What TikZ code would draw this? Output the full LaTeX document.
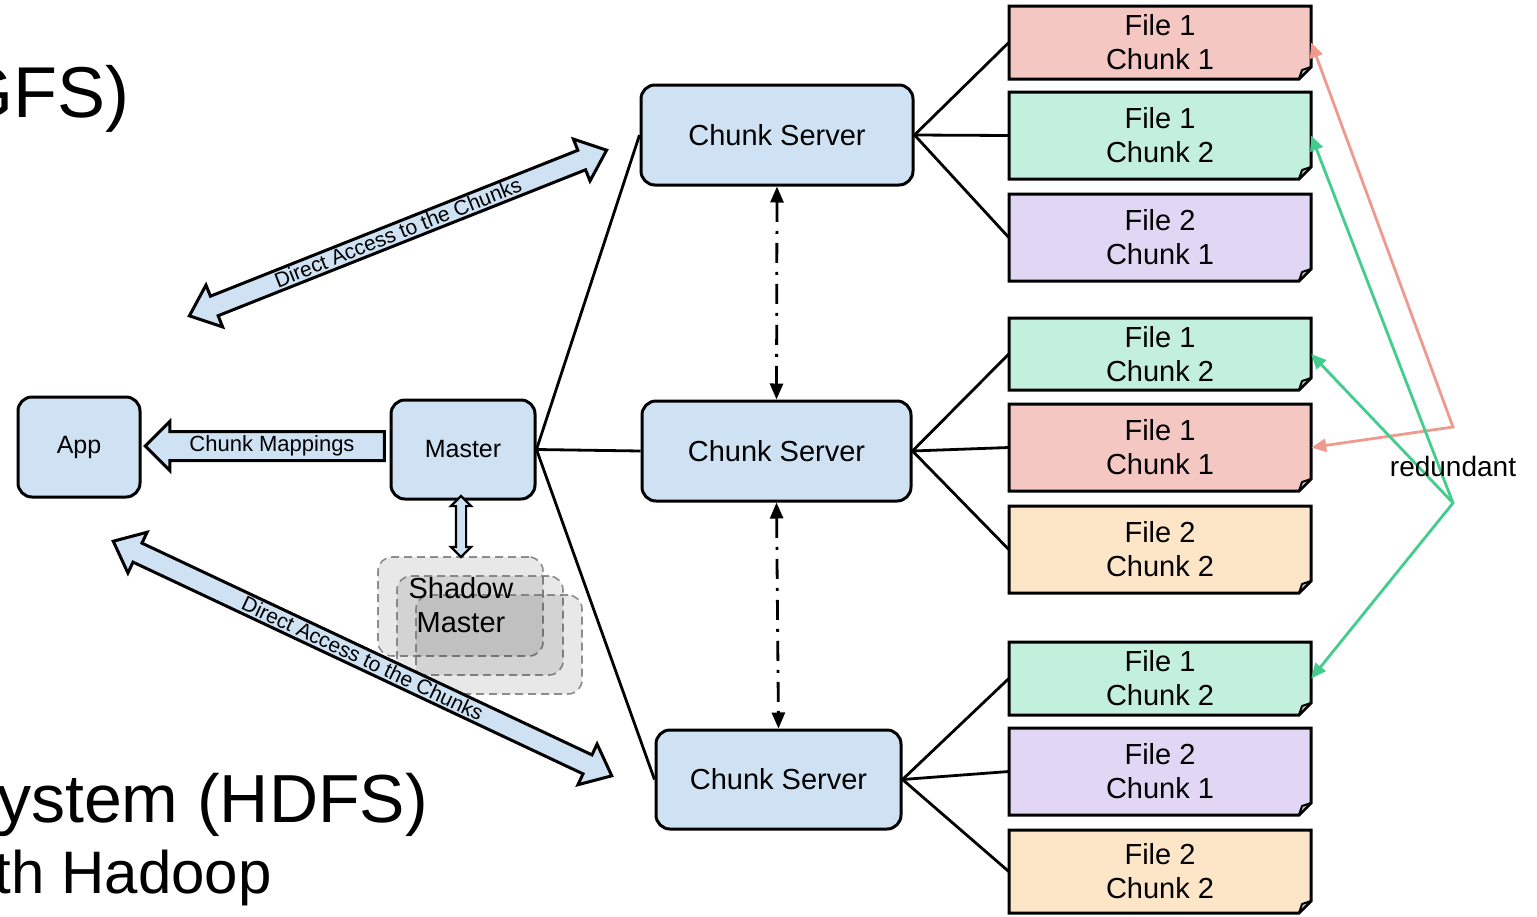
\documentclass[tikz,border=0pt]{standalone}
\usepackage{fontspec}
\setmainfont{Liberation Sans}
\usetikzlibrary{arrows.meta,shapes.arrows,calc}
\definecolor{csblue}{HTML}{CFE2F3}
\definecolor{fred}{HTML}{F4C7C3}
\definecolor{fgreen}{HTML}{C3F0DC}
\definecolor{fpurple}{HTML}{E1D7F5}
\definecolor{forange}{HTML}{FDE5C8}
\definecolor{ared}{HTML}{EE9B8E}
\definecolor{agreen}{HTML}{42CD8C}
\newcommand{\fnode}[7]{%
  \draw[filebox, fill=#6] (#2,#3) -- (#4,#3) -- (#4,#5-12) -- (#4-12,#5) -- (#2,#5) -- cycle;
  \draw[foldmark] (#4-12,#5) -- (#4,#5-12) -- (#4-9,#5-9) -- cycle;
  \node[filetext, minimum width=#4-#2, minimum height=#5-#3] (#1) at ({(#2+#4)/2},{(#3+#5)/2}) {#7};
}
\begin{document}
\begin{tikzpicture}[x=1pt,y=-1pt,
  box/.style={draw, line width=3pt, rounded corners=14pt, fill=csblue, inner sep=0pt},
  bigtext/.style={font=\fontsize{29}{34}\selectfont},
  midtext/.style={font=\fontsize{25}{30}\selectfont},
  filebox/.style={draw, line width=3pt, line join=miter},
  foldmark/.style={draw, line width=2pt, fill=black!25, line join=round},
  filetext/.style={font=\fontsize{29}{34}\selectfont, align=center, inner sep=0pt},
  conn/.style={line width=2.8pt},
  dd/.style={line width=2.8pt, dash pattern=on 20pt off 9pt on 3pt off 9pt,
     {Triangle[length=16pt,width=13pt]}-{Triangle[length=16pt,width=13pt]}},
  redl/.style={draw=ared, line width=2.8pt},
  greenl/.style={draw=agreen, line width=2.8pt},
  blockarrow/.style={draw, line width=3pt, fill=csblue, line join=miter},
  shadowbox/.style={draw=black!55, dash pattern=on 8pt off 5pt, line width=1.6pt, rounded corners=14pt,
     fill=black, fill opacity=0.09, draw opacity=0.8},
  title/.style={anchor=base east, inner sep=0pt}
]
\useasboundingbox (0,0) rectangle (1537,916);
\clip (0,0) rectangle (1537,916);

% titles (cut off by the page edge)
\node[title, font=\fontsize{72}{72}\selectfont] (t1) at (130,117) {GFS)};
\node[title, font=\fontsize{68}{68}\selectfont] (t2) at (428,822) {ystem (HDFS)};
\node[title, font=\fontsize{60}{60}\selectfont] (t3) at (272,893) {th Hadoop};

% main boxes
\node[box, bigtext, minimum width=272pt, minimum height=100pt] (cs1) at (777,135) {Chunk Server};
\node[box, bigtext, minimum width=269pt, minimum height=100pt] (cs2) at (776.5,451) {Chunk Server};
\node[box, bigtext, minimum width=245pt, minimum height=99pt] (cs3) at (778.5,779.5) {Chunk Server};
\node[box, midtext, minimum width=144pt, minimum height=99pt] (m) at (463,449.5) {Master};
\node[box, midtext, minimum width=122pt, minimum height=100pt] (app) at (79,447) {App};

% file chunks
\fnode{f1}{1009}{6}{1311}{79}{fred}{File 1\\Chunk 1}
\fnode{f2}{1009}{92}{1311}{179}{fgreen}{File 1\\Chunk 2}
\fnode{f3}{1009}{194}{1311}{281}{fpurple}{File 2\\Chunk 1}
\fnode{f4}{1009}{318}{1311}{390}{fgreen}{File 1\\Chunk 2}
\fnode{f5}{1009}{404}{1311}{491}{fred}{File 1\\Chunk 1}
\fnode{f6}{1009}{506}{1311}{593}{forange}{File 2\\Chunk 2}
\fnode{f7}{1009}{642}{1311}{715}{fgreen}{File 1\\Chunk 2}
\fnode{f8}{1009}{728}{1311}{815}{fpurple}{File 2\\Chunk 1}
\fnode{f9}{1009}{830}{1311}{913}{forange}{File 2\\Chunk 2}

% connectors master -> chunk servers
\draw[conn] (m.east) -- (cs1.west);
\draw[conn] (m.east) -- (cs2.west);
\draw[conn] (m.east) -- (cs3.west);

% chunk servers -> files
\draw[conn] (cs1.east) -- (f1.west);
\draw[conn] (cs1.east) -- (f2.west);
\draw[conn] (cs1.east) -- (f3.west);
\draw[conn] (cs2.east) -- (f4.west);
\draw[conn] (cs2.east) -- (f5.west);
\draw[conn] (cs2.east) -- (f6.west);
\draw[conn] (cs3.east) -- (f7.west);
\draw[conn] (cs3.east) -- (f8.west);
\draw[conn] (cs3.east) -- (f9.west);

% dash-dot arrows between chunk servers
\draw[dd] (cs1.south) -- (cs2.north);
\draw[dd] (cs2.south) -- (cs3.north);

% shadow master
\node[shadowbox, minimum width=165pt, minimum height=99pt] (sh1) at (460.5,606.5) {};
\node[shadowbox, minimum width=166pt, minimum height=99pt] (sh2) at (480,625.5) {};
\node[shadowbox, minimum width=166pt, minimum height=99pt] (sh3) at (499,644.5) {};
\node[bigtext, align=center, inner sep=0pt] (smtext) at (461,605) {Shadow\\Master};

% block arrows
\node[blockarrow, double arrow, rotate=21.66, minimum height=449pt, minimum width=42pt,
  double arrow head extend=12pt, double arrow tip angle=80, inner ysep=1pt, inner xsep=0pt,
  text height=15pt, text depth=1pt, font=\fontsize{21}{21}\selectfont] (da1) at (398,233)
  {Direct Access to the Chunks};
\node[blockarrow, double arrow, rotate=-25.2, minimum height=551pt, minimum width=42pt,
  double arrow head extend=12pt, double arrow tip angle=80, inner ysep=1pt, inner xsep=0pt,
  text height=15pt, text depth=1pt, font=\fontsize{21}{21}\selectfont] (da2) at (362.5,658.5)
  {Direct Access to the Chunks};
\node[blockarrow, single arrow, shape border rotate=180, minimum height=239pt, minimum width=46pt,
  single arrow head extend=10pt, single arrow tip angle=90, inner ysep=3pt, inner xsep=0pt,
  text height=15pt, text depth=5pt, font=\fontsize{22}{22}\selectfont] (cm) at (272,446)
  {Chunk Mappings};
\node[blockarrow, line width=2.2pt, double arrow, rotate=90, minimum height=61pt, minimum width=18pt,
  double arrow head extend=5pt, double arrow tip angle=90, inner sep=4pt] (ms) at (461,526.5) {};

% redundant arrows
\coordinate (rr) at (1453,427);
\coordinate (rg) at (1453,503);
\draw[redl, {Triangle[length=15pt,width=13pt]}-{Triangle[length=15pt,width=13pt]}] (f1.east) -- (rr) -- (f5.east);
\draw[greenl, {Triangle[length=15pt,width=13pt]}-{Triangle[length=15pt,width=13pt]}] (f2.east) -- (rg) -- (f7.east);
\draw[greenl, -{Triangle[length=15pt,width=13pt]}] (rg) -- (f4.east);
\node[anchor=base, inner sep=0pt, font=\fontsize{28}{28}\selectfont] (red) at (1453,476) {redundant};
\end{tikzpicture}
\end{document}
